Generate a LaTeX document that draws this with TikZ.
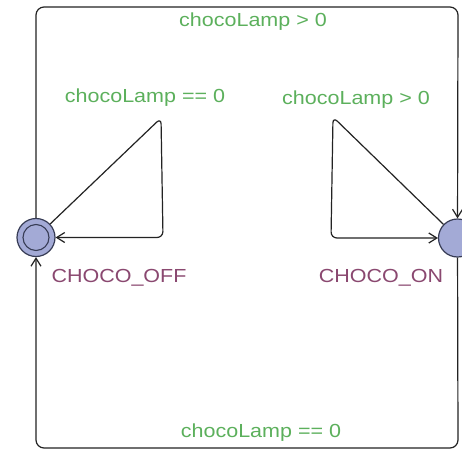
\documentclass[tikz,border=0pt]{standalone}
\usepackage{fontspec}
\setmainfont{Liberation Sans}
\usetikzlibrary{arrows.meta}
\definecolor{guardgreen}{RGB}{92,176,92}
\definecolor{locname}{RGB}{138,72,112}
\definecolor{locfill}{RGB}{163,170,214}
\definecolor{locline}{RGB}{55,60,85}
\definecolor{edgeline}{RGB}{35,35,35}
% labels are set a little flatter than the plain font
\newcommand\flatlabel[1]{\scalebox{1}[0.88]{#1}}
\begin{document}
\begin{tikzpicture}[x=1pt,y=-1pt,
  location/.style={circle,draw=locline,fill=locfill,line width=1.2pt,minimum size=38pt,inner sep=0pt},
  initring/.style={circle,draw=locline,line width=1.1pt,minimum size=26pt,inner sep=0pt},
  edge/.style={draw=edgeline,line width=1.2pt,rounded corners=8pt,-{Straight Barb[length=8pt,width=10pt]}},
  guard/.style={text=guardgreen,font=\fontsize{21.5}{24}\selectfont,inner sep=0pt},
  locationname/.style={text=locname,font=\fontsize{21.5}{24}\selectfont,inner sep=0pt}]
  \useasboundingbox[fill=white] (0,0) rectangle (462,452);

  % locations
  \node[location] (off) at (36,237.5) {};
  \node[initring] (offring) at (off.center) {};
  \node[location] (on) at (457.5,238) {};

  % corner points of the edges
  \coordinate (tl) at (36,7);
  \coordinate (tr) at (458,7);
  \coordinate (br) at (458,448);
  \coordinate (bl) at (36,448);
  \coordinate (la) at (161,118);
  \coordinate (lb) at (163,237.5);
  \coordinate (ra) at (333,117);
  \coordinate (rb) at (331,238);

  % CHOCO_OFF -> CHOCO_ON over the top
  \draw[edge] (off) -- (tl) -- (tr) -- (on);
  % CHOCO_ON -> CHOCO_OFF along the bottom
  \draw[edge] (on) -- (br) -- (bl) -- (off);
  % self loops
  \draw[edge,rounded corners=6pt] (off) -- (la) -- (lb) -- (off);
  \draw[edge,rounded corners=6pt] (on) -- (ra) -- (rb) -- (on);

  % guards
  \node[guard] (gtop) at (253,22) {\flatlabel{chocoLamp > 0}};
  \node[guard] (gbot) at (261,433) {\flatlabel{chocoLamp == 0}};
  \node[guard] (goff) at (145,98) {\flatlabel{chocoLamp == 0}};
  \node[guard] (gon) at (356,100) {\flatlabel{chocoLamp > 0}};

  % location names
  \node[locationname] (noff) at (119,278) {\flatlabel{CHOCO\_OFF}};
  \node[locationname] (non) at (381,278) {\flatlabel{CHOCO\_ON}};
\end{tikzpicture}
\end{document}
